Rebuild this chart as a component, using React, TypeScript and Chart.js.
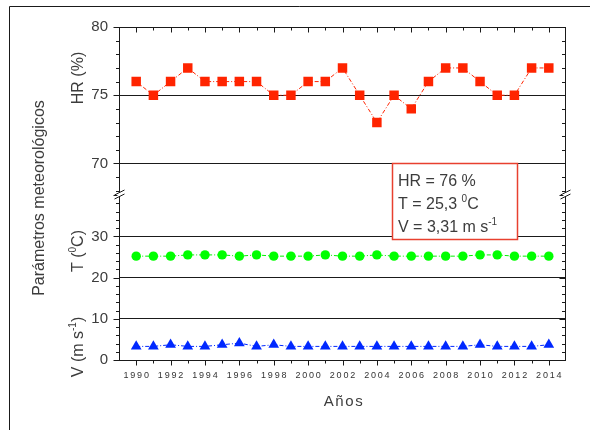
import React, { useEffect, useRef } from 'react';
import { Chart, registerables } from 'chart.js';

Chart.register(...registerables);

// ---- data ----
const years = [1990, 1991, 1992, 1993, 1994, 1995, 1996, 1997, 1998, 1999, 2000, 2001, 2002, 2003, 2004, 2005, 2006, 2007, 2008, 2009, 2010, 2011, 2012, 2013, 2014];
const hrValues = [76, 75, 76, 77, 76, 76, 76, 76, 75, 75, 76, 76, 77, 75, 73, 75, 74, 76, 77, 77, 76, 75, 75, 77, 77];
const tValues = [25.2, 25.2, 25.2, 25.5, 25.5, 25.5, 25.2, 25.5, 25.2, 25.2, 25.2, 25.5, 25.2, 25.2, 25.5, 25.2, 25.2, 25.2, 25.2, 25.2, 25.5, 25.5, 25.2, 25.2, 25.2];
const vValues = [3.3, 3.3, 3.7, 3.3, 3.3, 3.7, 4.1, 3.3, 3.7, 3.3, 3.3, 3.3, 3.3, 3.3, 3.3, 3.3, 3.3, 3.3, 3.3, 3.3, 3.7, 3.3, 3.3, 3.3, 3.7];
const xTickYears = [1990, 1992, 1994, 1996, 1998, 2000, 2002, 2004, 2006, 2008, 2010, 2012, 2014];
const hrTicks = [70, 75, 80];
const lowTicks = [0, 10, 20, 30];
const yTitle = 'Parámetros meteorológicos';
const xTitle = 'Años';
const statsLines = [
  [{ t: 'HR = 76 %' }],
  [{ t: 'T = 25,3 ' }, { t: '0', sup: true }, { t: 'C' }],
  [{ t: 'V = 3,31 m s' }, { t: '-1', sup: true }],
];

const FONT = '"Liberation Sans", Arial, sans-serif';
const TEXT = '#3c3c3c';
const LINE = '#1a1a1a';

type Part = { t: string; sup?: boolean };

function richWidth(ctx: CanvasRenderingContext2D, parts: Part[], size: number) {
  let w = 0;
  for (const p of parts) {
    ctx.font = `${p.sup ? Math.round(size * 0.62) : size}px ${FONT}`;
    w += ctx.measureText(p.t).width;
  }
  return w;
}

function drawRich(ctx: CanvasRenderingContext2D, parts: Part[], x: number, y: number, size: number, center: boolean) {
  const w = richWidth(ctx, parts, size);
  let cx = center ? x - w / 2 : x;
  ctx.textAlign = 'left';
  ctx.textBaseline = 'alphabetic';
  for (const p of parts) {
    ctx.font = `${p.sup ? Math.round(size * 0.62) : size}px ${FONT}`;
    ctx.fillText(p.t, cx, p.sup ? y - size * 0.42 : y);
    cx += ctx.measureText(p.t).width;
  }
}

function drawRotated(ctx: CanvasRenderingContext2D, parts: Part[], cx: number, cy: number, size: number) {
  ctx.save();
  ctx.translate(cx, cy);
  ctx.rotate(-Math.PI / 2);
  drawRich(ctx, parts, 0, size * 0.36, size, true);
  ctx.restore();
}

const decorPlugin = {
  id: 'decor',
  afterDraw(chart: any) {
    const { ctx, chartArea: a, scales } = chart;
    const x = scales.x;
    const yH = scales.yHR;
    const yL = scales.yLow;
    const L = Math.round(a.left) + 0.5;
    const R = Math.round(a.right) - 0.5;
    const T = Math.round(a.top) + 0.5;
    const B = Math.round(a.bottom) + 0.5;
    ctx.save();
    ctx.strokeStyle = LINE;
    ctx.lineWidth = 1;
    const line = (x1: number, y1: number, x2: number, y2: number) => {
      ctx.beginPath();
      ctx.moveTo(x1, y1);
      ctx.lineTo(x2, y2);
      ctx.stroke();
    };
    // outer page frame
    line(9.5, 6.5, 590, 6.5);
    line(9.5, 6.5, 9.5, 430);
    // plot frame
    ctx.strokeRect(L, T, R - L, B - T);
    // x ticks (bottom outward, top inward)
    for (let yr = 1990; yr <= 2014; yr++) {
      const px = Math.round(x.getPixelForValue(yr)) + 0.5;
      const len = yr % 2 === 0 ? 5 : 3;
      line(px, B, px, B + len);
      line(px, T, px, T + len);
    }
    // y ticks upper panel
    for (let v = 68; v <= 80; v++) {
      const py = Math.round(yH.getPixelForValue(v)) + 0.5;
      const len = v % 5 === 0 ? 6 : 3.5;
      line(L - len, py, L, py);
      line(R - len, py, R, py);
    }
    // y ticks lower panel
    for (let v = 0; v <= 40; v += 2) {
      const py = Math.round(yL.getPixelForValue(v)) + 0.5;
      const len = v % 10 === 0 ? 6 : 3.5;
      line(L - len, py, L, py);
      line(R - len, py, R, py);
    }
    // axis breaks
    const bY = Math.round(yH.bottom);
    for (const ax of [L, R]) {
      ctx.fillStyle = '#ffffff';
      ctx.fillRect(ax - 2, bY - 2, 4, 4);
      line(ax - 5, bY + 1, ax + 5, bY - 4);
      line(ax - 5, bY + 5, ax + 5, bY);
    }
    // stats box
    const bx1 = 392.5;
    const bx2 = 517.5;
    const by1 = Math.round(yH.getPixelForValue(70)) + 0.5;
    const by2 = by1 + 76;
    ctx.fillStyle = '#ffffff';
    ctx.fillRect(bx1, by1, bx2 - bx1, by2 - by1);
    ctx.strokeStyle = '#e8402f';
    ctx.lineWidth = 1.5;
    ctx.strokeRect(bx1, by1, bx2 - bx1, by2 - by1);
    ctx.fillStyle = TEXT;
    const baselines = [by1 + 22.5, by1 + 45, by1 + 68.5];
    statsLines.forEach((parts, i) => drawRich(ctx, parts as Part[], 398, baselines[i], 16, false));
    // axis titles
    drawRotated(ctx, [{ t: yTitle }], 38, 198, 16);
    drawRotated(ctx, [{ t: 'HR (%)' }], 77, 78, 16);
    drawRotated(ctx, [{ t: 'T (' }, { t: '0', sup: true }, { t: 'C)' }], 77, 251, 16);
    drawRotated(ctx, [{ t: 'V (m s' }, { t: '-1', sup: true }, { t: ')' }], 77, 347, 16);
    ctx.font = `15px ${FONT}`;
    (ctx as any).letterSpacing = '1.6px';
    ctx.textAlign = 'center';
    ctx.textBaseline = 'middle';
    ctx.fillText(xTitle, 344, 402);
    (ctx as any).letterSpacing = '0px';
    ctx.restore();
  },
};

export default function App() {
  const ref = useRef<HTMLCanvasElement | null>(null);
  useEffect(() => {
    if (!ref.current) return;
    const pts = (vals: number[]) => years.map((yr, i) => ({ x: yr, y: vals[i] }));
    const yCommon = {
      type: 'linear' as const,
      position: 'left' as const,
      stack: 'ystack',
      stackWeight: 1,
      afterFit: (s: any) => { s.width = 119; },
      grid: { color: LINE, lineWidth: 1, drawTicks: false },
      border: { display: false },
      ticks: { padding: 11, color: TEXT, font: { family: FONT, size: 15 } },
    };
    const chart = new Chart(ref.current, {
      type: 'line',
      data: {
        datasets: [
          {
            label: 'HR', data: pts(hrValues), yAxisID: 'yHR',
            borderColor: '#ff2400', backgroundColor: '#ff2400', borderWidth: 1, borderDash: [4, 2, 1, 2],
            pointStyle: 'rect', pointRadius: 6.7, pointBorderWidth: 0, tension: 0,
          },
          {
            label: 'T', data: pts(tValues), yAxisID: 'yLow',
            borderColor: '#00f000', backgroundColor: '#00ff00', borderWidth: 1, borderDash: [4, 2, 1, 2],
            pointStyle: 'circle', pointRadius: 4.7, pointBorderWidth: 0, tension: 0,
          },
          {
            label: 'V', data: pts(vValues), yAxisID: 'yLow',
            borderColor: '#0028ff', backgroundColor: '#0028ff', borderWidth: 1, borderDash: [4, 2, 1, 2],
            pointStyle: 'triangle', pointRadius: 6.2, pointBorderWidth: 0, tension: 0,
          },
        ],
      },
      options: {
        responsive: false,
        animation: false,
        devicePixelRatio: 1,
        layout: { padding: { top: 27, right: 24, left: 0, bottom: 0 } },
        plugins: { legend: { display: false }, tooltip: { enabled: false } },
        scales: {
          x: {
            type: 'linear', position: 'bottom', min: 1989, max: 2015,
            afterBuildTicks: (s: any) => { s.ticks = xTickYears.map((v) => ({ value: v })); },
            afterFit: (s: any) => { s.height = 70; },
            grid: { display: false, drawTicks: false },
            border: { display: false },
            ticks: {
              autoSkip: false, maxRotation: 0, padding: 10, color: '#333',
              font: { family: FONT, size: 9 },
              callback: (v: any) => String(v).split('').join('\u2009'),
            },
          },
          yLow: {
            ...yCommon, min: 0, max: 40.4,
            afterBuildTicks: (s: any) => { s.ticks = lowTicks.map((v) => ({ value: v })); },
          },
          yHR: {
            ...yCommon, min: 67.8, max: 80,
            afterBuildTicks: (s: any) => { s.ticks = hrTicks.map((v) => ({ value: v })); },
          },
        },
      } as any,
      plugins: [decorPlugin],
    });
    return () => chart.destroy();
  }, []);
  return (
    <div style={{ position: 'absolute', left: 0, top: 0, width: 590, height: 430, background: '#fff' }}>
      <canvas ref={ref} width={590} height={430} style={{ display: 'block' }} />
    </div>
  );
}
